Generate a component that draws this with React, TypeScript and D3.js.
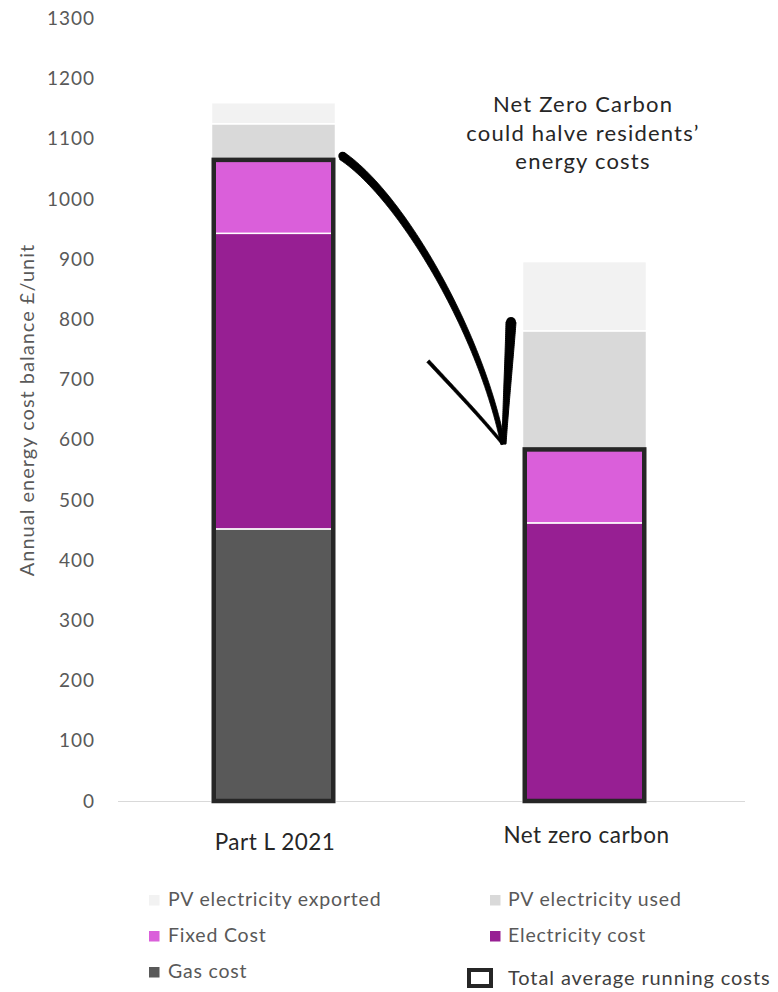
import React from "react";
import * as d3 from "d3";

const categories = ["Part L 2021", "Net zero carbon"];
const gasCost = [452, 0];
const electricityCost = [491, 462];
const fixedCost = [122, 122];
const pvUsed = [60, 197];
const pvExported = [35, 115];
const yTicks = [0, 100, 200, 300, 400, 500, 600, 700, 800, 900, 1000, 1100, 1200, 1300];
const titleLines = ["Net Zero Carbon", "could halve residents\u2019", "energy costs"];
const yTitle = "Annual energy cost balance \u00a3/unit";

const seriesKeys = ["gas", "electricity", "fixed", "pvUsed", "pvExported"];
const seriesLabels: Record<string, string> = {
  gas: "Gas cost",
  electricity: "Electricity cost",
  fixed: "Fixed Cost",
  pvUsed: "PV electricity used",
  pvExported: "PV electricity exported",
};
const colors: Record<string, string> = {
  gas: "#595959",
  electricity: "#971f93",
  fixed: "#da5fda",
  pvUsed: "#d9d9d9",
  pvExported: "#f2f2f2",
};

const FONT = "Lato, 'Open Sans', sans-serif";

type P = [number, number];

// tapered brush stroke along a cubic bezier
function brushPath(p0: P, p1: P, p2: P, p3: P, w0: number, w1: number, n = 60) {
  const left: P[] = [];
  const right: P[] = [];
  for (let i = 0; i <= n; i++) {
    const t = i / n;
    const u = 1 - t;
    const x = u * u * u * p0[0] + 3 * u * u * t * p1[0] + 3 * u * t * t * p2[0] + t * t * t * p3[0];
    const y = u * u * u * p0[1] + 3 * u * u * t * p1[1] + 3 * u * t * t * p2[1] + t * t * t * p3[1];
    const dx = 3 * u * u * (p1[0] - p0[0]) + 6 * u * t * (p2[0] - p1[0]) + 3 * t * t * (p3[0] - p2[0]);
    const dy = 3 * u * u * (p1[1] - p0[1]) + 6 * u * t * (p2[1] - p1[1]) + 3 * t * t * (p3[1] - p2[1]);
    const len = Math.hypot(dx, dy) || 1;
    const nx = -dy / len;
    const ny = dx / len;
    const w = (w0 + (w1 - w0) * t) / 2;
    left.push([x + nx * w, y + ny * w]);
    right.push([x - nx * w, y - ny * w]);
  }
  const pts = left.concat(right.reverse());
  return d3.line().curve(d3.curveLinearClosed)(pts) as string;
}

export default function App() {
  const W = 778, H = 992;
  const y = d3.scaleLinear().domain([0, 1300]).range([801, 18.4]);
  const x = d3.scalePoint<string>().domain(categories).range([118, 740]).padding(0.5);
  const barW = 124;

  const rows = categories.map((c, i) => ({
    cat: c,
    gas: gasCost[i],
    electricity: electricityCost[i],
    fixed: fixedCost[i],
    pvUsed: pvUsed[i],
    pvExported: pvExported[i],
  }));
  const stacked = d3.stack<any>().keys(seriesKeys)(rows);
  const running = rows.map((r) => r.gas + r.electricity + r.fixed);

  // hand-drawn arrow annotation
  const tip: P = [503, 444];
  const mainCurve = brushPath([342, 156], [400, 195], [480, 330], tip, 8.5, 4.5);
  const leftBarb = brushPath([428, 361], [455, 390], [480, 416], tip, 3.6, 3);
  const rightBarb = brushPath([511, 322], [509, 362], [506, 402], [504, 444], 10, 4);

  const legendLeft = [
    { key: "pvExported", y: 906 },
    { key: "fixed", y: 942 },
    { key: "gas", y: 978 },
  ];
  const legendRight = [
    { key: "pvUsed", y: 906 },
    { key: "electricity", y: 942 },
  ];

  return (
    <svg width={W} height={H} style={{ position: "absolute", left: 0, top: 0, background: "#fff" }} fontFamily={FONT}>
      {/* y tick labels */}
      {yTicks.map((t) => (
        <text key={t} x={95} y={y(t)} dy="0.35em" textAnchor="end" fontSize={19} letterSpacing={1} fill="#595959">
          {t}
        </text>
      ))}
      <text
        transform={`translate(34, 410) rotate(-90)`}
        textAnchor="middle"
        fontSize={20}
        letterSpacing={1}
        fill="#595959"
      >
        {yTitle}
      </text>

      {/* axis line */}
      <line x1={118} x2={745} y1={y(0) + 0.5} y2={y(0) + 0.5} stroke="#d9d9d9" strokeWidth={1} />

      {/* bars */}
      {stacked.map((s) =>
        s.map((d, i) => {
          const h = y(d[0]) - y(d[1]);
          if (h <= 0) return null;
          const cx = x(categories[i])!;
          return (
            <rect
              key={s.key + i}
              x={cx - barW / 2}
              y={y(d[1])}
              width={barW}
              height={h}
              fill={colors[s.key]}
              stroke="#fff"
              strokeWidth={1.5}
            />
          );
        })
      )}
      {/* total running cost outlines */}
      {categories.map((c, i) => (
        <rect
          key={"o" + c}
          x={x(c)! - barW / 2 + 2.25}
          y={y(running[i])}
          width={barW - 4.5}
          height={y(0) - y(running[i])}
          fill="none"
          stroke="#262626"
          strokeWidth={4.5}
        />
      ))}

      {/* category labels */}
      <text x={x(categories[0])! + 1.5} y={850} textAnchor="middle" fontSize={22.5} letterSpacing={0.5} fill="#262626">
        {categories[0]}
      </text>
      <text x={x(categories[1])! + 2} y={843} textAnchor="middle" fontSize={22.5} letterSpacing={0.5} fill="#262626">
        {categories[1]}
      </text>

      {/* title annotation */}
      {titleLines.map((t, i) => (
        <text key={t} x={583} y={112 + i * 28.5} textAnchor="middle" fontSize={22} letterSpacing={1.2} fill="#262626">
          {t}
        </text>
      ))}

      {/* arrow */}
      <path d={mainCurve} fill="#000" stroke="#000" strokeWidth={0.8} strokeLinejoin="round" />
      <path d={leftBarb} fill="#000" stroke="#000" strokeWidth={0.5} strokeLinejoin="round" />
      <path d={rightBarb} fill="#000" stroke="#000" strokeWidth={1} strokeLinejoin="round" />
      <circle cx={511} cy={322} r={5} fill="#000" />
      <circle cx={342.5} cy={156} r={4.2} fill="#000" />

      {/* legend */}
      {legendLeft.map((l) => (
        <g key={l.key}>
          <rect x={149} y={l.y - 11} width={10.5} height={10.5} fill={colors[l.key]} />
          <text x={168} y={l.y} fontSize={19.5} letterSpacing={0.8} fill="#595959">
            {seriesLabels[l.key]}
          </text>
        </g>
      ))}
      {legendRight.map((l) => (
        <g key={l.key}>
          <rect x={490} y={l.y - 11} width={10.5} height={10.5} fill={colors[l.key]} />
          <text x={508} y={l.y} fontSize={19.5} letterSpacing={0.8} fill="#595959">
            {seriesLabels[l.key]}
          </text>
        </g>
      ))}
      <rect x={469} y={970} width={22} height={16} fill="none" stroke="#262626" strokeWidth={4} />
      <text x={508} y={985} fontSize={20} letterSpacing={0.9} fill="#404040">
        Total average running costs
      </text>
    </svg>
  );
}
